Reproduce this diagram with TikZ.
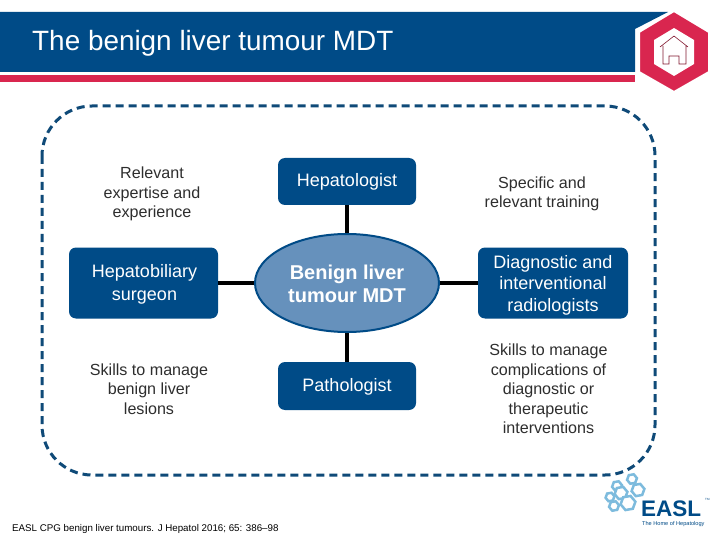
\documentclass[tikz,border=0pt]{standalone}
\usepackage{fontspec}
\setmainfont{Liberation Sans}
\usetikzlibrary{shapes.geometric}
\definecolor{easlblue}{HTML}{004B87}
\definecolor{easlred}{HTML}{D9264F}
\definecolor{ellfill}{HTML}{6691BC}
\definecolor{dashblue}{HTML}{0F4A78}
\definecolor{hexblue}{HTML}{7DBBDD}
\newcommand{\fs}[1]{\fontsize{#1}{#1}\selectfont}
\tikzset{
  x=1pt,y=-1pt,
  rolebox/.style={draw=none,fill=easlblue,rounded corners=7pt,inner sep=0pt},
  roletext/.style={text=white,align=center,inner sep=0pt},
  plain/.style={text=black!82,align=center,inner sep=0pt,font=\fs{16.1}},
  link/.style={draw=black,line width=4pt},
  hexa/.style={draw=hexblue,line width=2.5pt,fill=white,regular polygon,regular polygon sides=6,inner sep=0pt,minimum size=#1},
}
\begin{document}
\begin{tikzpicture}
\useasboundingbox (0,0) rectangle (720,540);
\fill[white] (0,0) rectangle (720,540);
% header
\fill[easlblue] (0,12) -- (668,12) -- (635,29) -- (635,72) -- (0,72) -- cycle;
\fill[easlred] (0,75) rectangle (635,82.5);
\node[anchor=base west,text=white,inner sep=0pt,font=\fs{27.9}] (title) at (32,51) {The benign liver tumour MDT};
% hexagon badge
\fill[easlred,draw=white,line width=2pt] (674,11) -- (709,32) -- (709,72) -- (674,92) -- (639,72) -- (639,32) -- cycle;
\fill[white] (674,28) -- (694,40) -- (694,64) -- (674,76) -- (654,64) -- (654,40) -- cycle;
\draw[easlred!60!black,line width=.6pt] (660,47) -- (674,36) -- (688,47) (663,46) -- (663,64) -- (669,64) -- (669,56) -- (679,56) -- (679,64) -- (686,64) -- (686,46);
% dashed frame
\draw[dashblue,line width=3pt,dash pattern=on 8pt off 5pt,rounded corners=50pt] (42,106) rectangle (655,475);
% nodes
\node[draw=easlblue,line width=2pt,fill=ellfill,ellipse,minimum width=184pt,minimum height=98pt,inner sep=0pt] (mdt) at (347,283) {};
\node[roletext,font=\fs{20}\bfseries] (mdtl) at (347,283.5) {Benign liver\\[3pt]tumour MDT};
\node[rolebox,minimum width=138pt,minimum height=47pt] (hep) at (347,181.5) {};
\node[roletext,font=\fs{18}] (hepl) at (347,182) {Hepatologist};
\node[rolebox,minimum width=138pt,minimum height=48pt] (pat) at (347,386) {};
\node[roletext,font=\fs{18}] (patl) at (347,386.5) {Pathologist};
\node[rolebox,minimum width=149pt,minimum height=71pt] (sur) at (143.5,283) {};
\node[roletext,font=\fs{18}] (surl) at (144.5,284) {Hepatobiliary\\[5pt]surgeon};
\node[rolebox,minimum width=150pt,minimum height=71pt] (rad) at (553,283) {};
\node[roletext,font=\fs{18}] (radl) at (553,285) {Diagnostic and\\[3.5pt]interventional\\[3.5pt]radiologists};
% connectors
\draw[link] (hep) -- (mdt);
\draw[link] (pat) -- (mdt);
\draw[link] (sur) -- (mdt);
\draw[link] (rad) -- (mdt);
% plain text
\node[plain] (t1) at (152,194) {Relevant\\[3.4pt]expertise and\\[3.4pt]experience};
\node[plain] (t2) at (149,389) {Skills to manage\\[3.4pt]benign liver\\[3.4pt]lesions};
\node[plain] (t3) at (542,194) {Specific and\\[3.4pt]relevant training};
\node[plain] (t4) at (548.5,389) {Skills to manage\\[3.4pt]complications of\\[3.4pt]diagnostic or\\[3.4pt]therapeutic\\[3.4pt]interventions};
\node[anchor=west,inner sep=0pt,text=black,font=\fs{9.75}] (ref) at (12,528.5) {EASL CPG benign liver tumours. J Hepatol 2016; 65: 386–98};
% logo
\node[hexa=10pt,rotate=10] (h1) at (632,479) {};
\node[hexa=10pt,rotate=10] (h2) at (617,486) {};
\node[hexa=13pt,rotate=10] (h3) at (638,490) {};
\node[hexa=13pt,rotate=10] (h4) at (621,493) {};
\node[hexa=9pt,rotate=10] (h5) at (610,497) {};
\node[hexa=15pt,rotate=10] (h6) at (628,503) {};
\node[hexa=10pt,rotate=10] (h7) at (614,506) {};
\node[anchor=west,inner sep=0pt,text=easlblue,font=\fs{22.5}\bfseries] (easl) at (641,508.5) {EASL};
\node[anchor=west,inner sep=0pt,text=easlblue,font=\fs{3}] (tm) at (705,499) {TM};
\node[anchor=west,inner sep=0pt,text=easlblue,font=\fs{5.6}] (home) at (642,524) {The Home of Hepatology};
\end{tikzpicture}
\end{document}
